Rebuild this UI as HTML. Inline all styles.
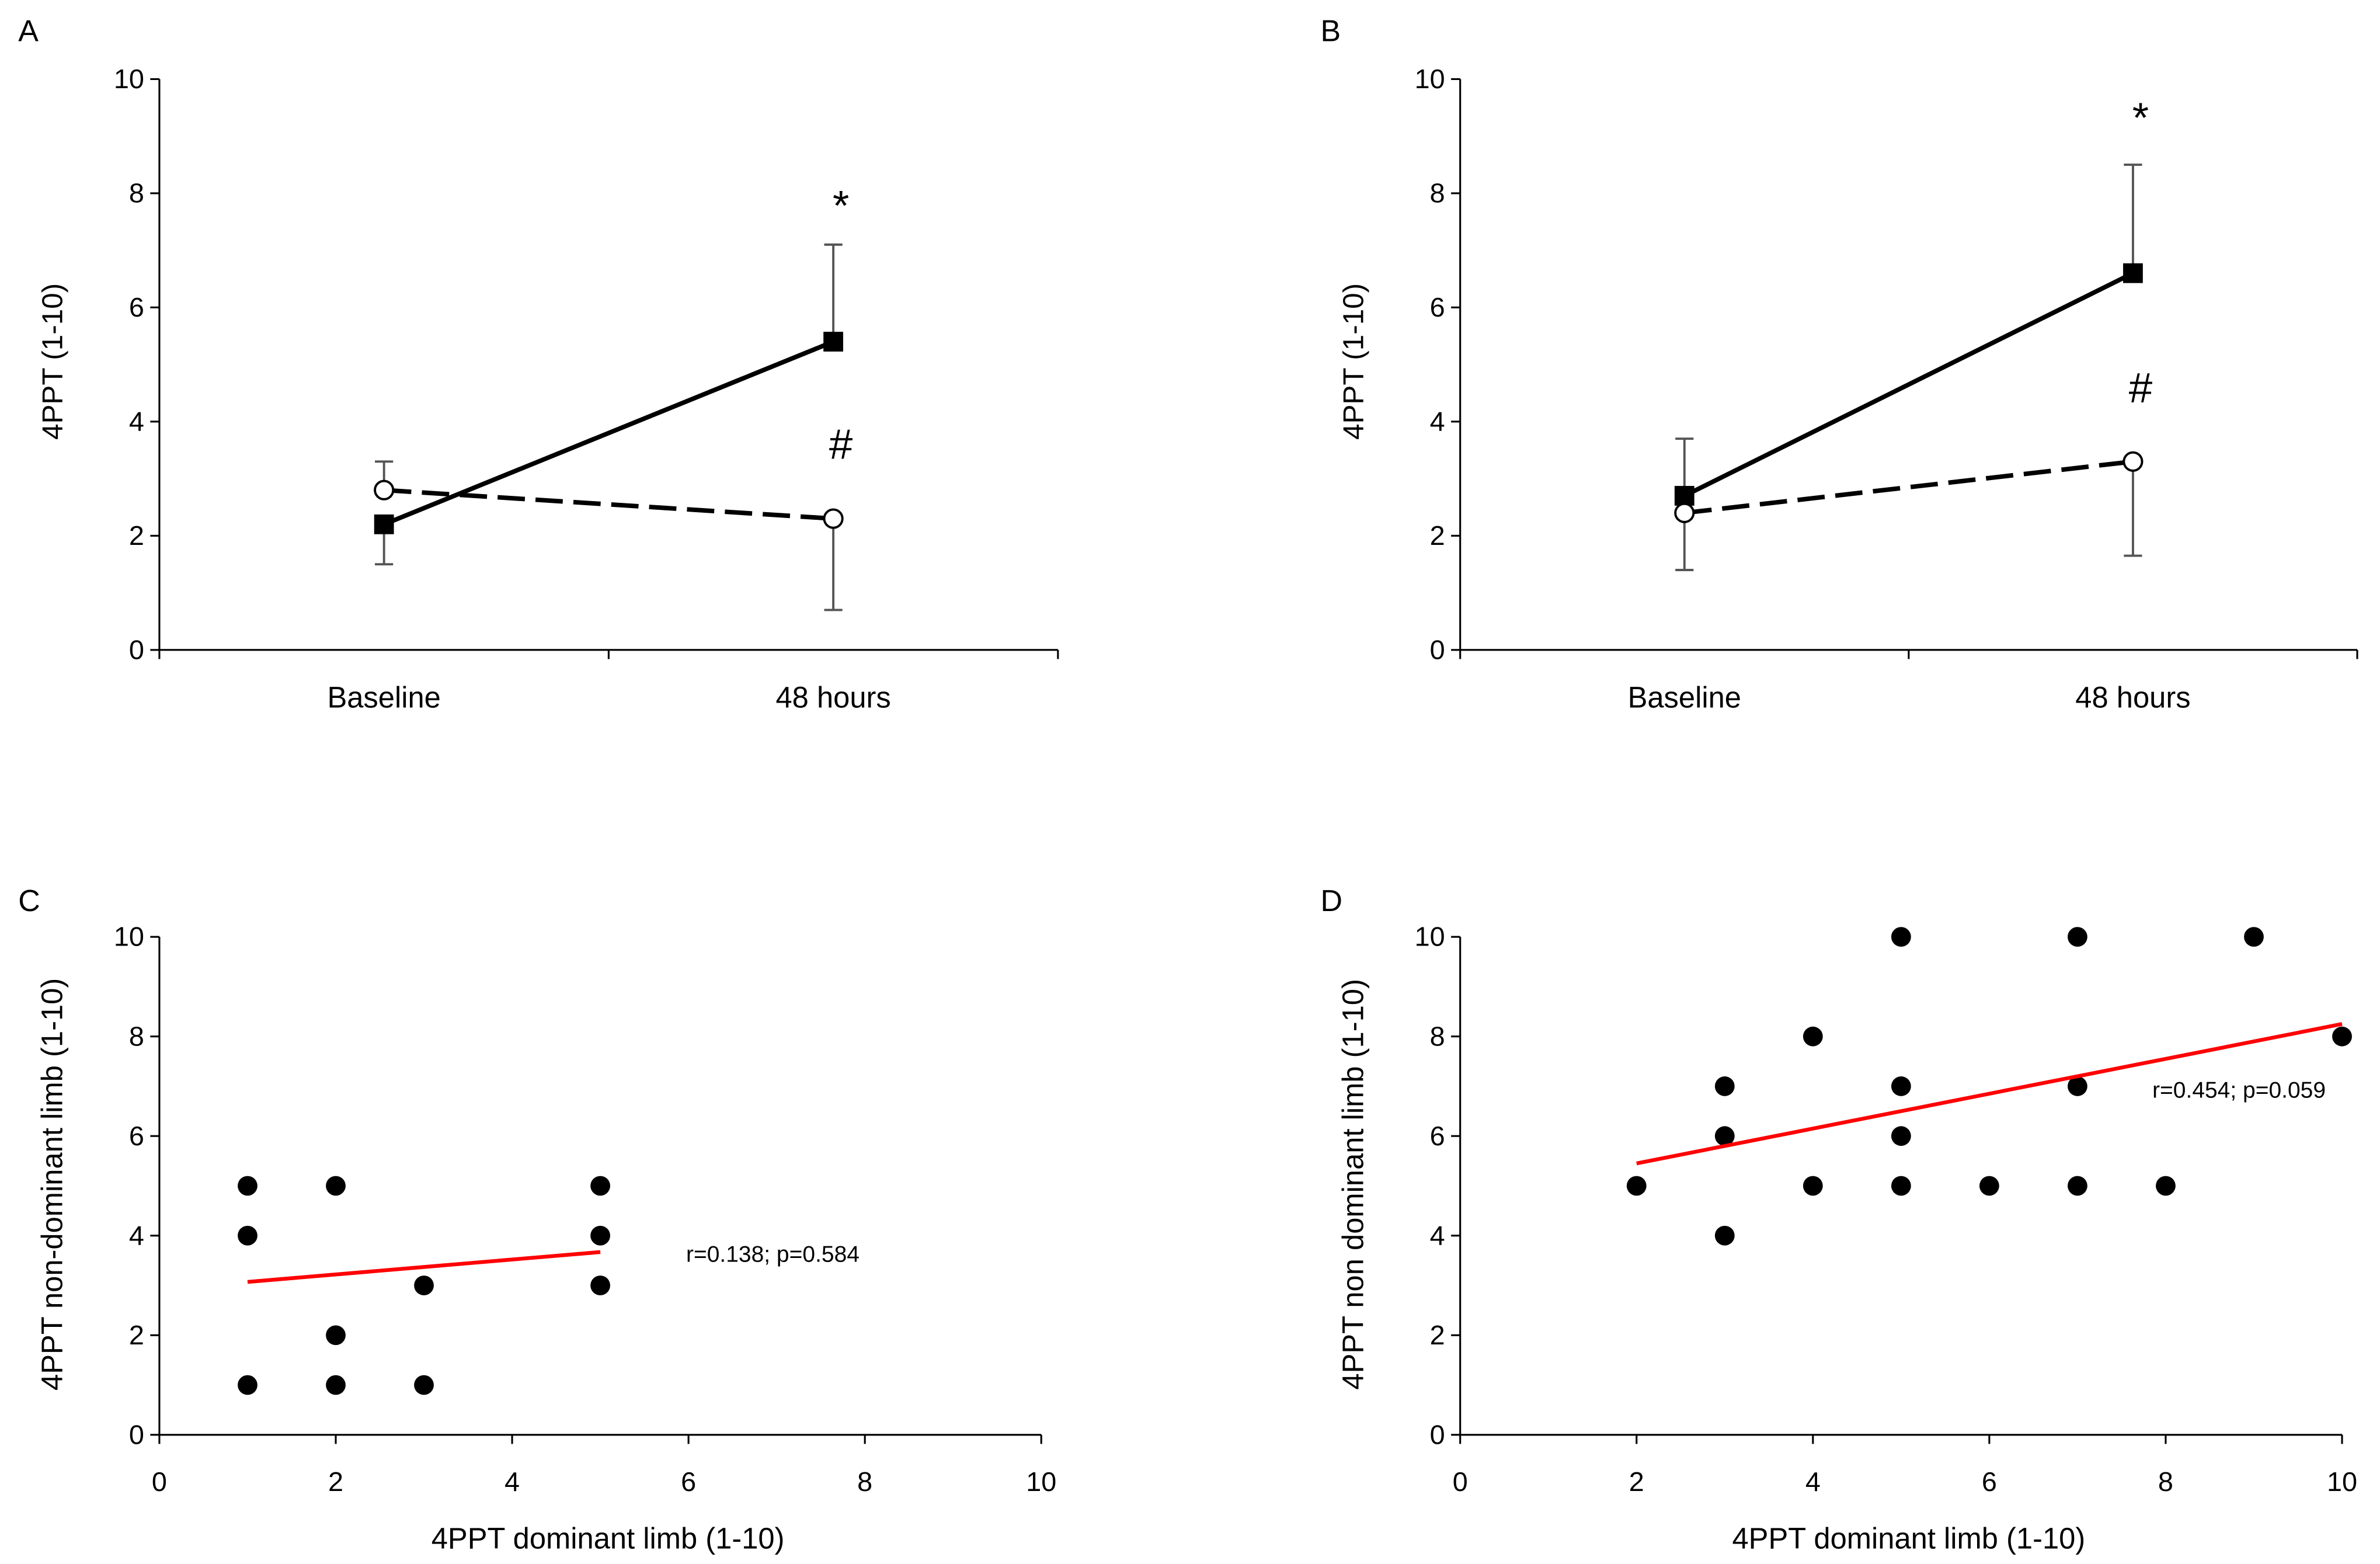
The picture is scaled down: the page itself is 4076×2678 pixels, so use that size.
<!DOCTYPE html>
<html><head><meta charset="utf-8"><style>
html,body{margin:0;padding:0;background:#fff}
svg{display:block}
text{font-family:"Liberation Sans",sans-serif;fill:#000}
</style></head><body>
<svg id="fig" width="4076" height="2678" viewBox="0 0 1568 1030" xmlns="http://www.w3.org/2000/svg"></svg>
<script>
// Panel A data
const catLabels = ["Baseline","48 hours"];
const aSolid = [2.2, 5.4];
const aSolidErr = [-0.7, 1.7];
const aOpen = [2.8, 2.3];
const aOpenErr = [0.5, -1.6];
// Panel B data
const bSolid = [2.7, 6.6];
const bSolidErr = [1.0, 1.9];
const bOpen = [2.4, 3.3];
const bOpenErr = [-1.0, -1.65];
const yTicks = [0,2,4,6,8,10];
const xTicksScatter = [0,2,4,6,8,10];
// Panel C data
const cX = [1,1,1,2,2,2,3,3,5,5,5];
const cY = [5,4,1,5,2,1,3,1,5,4,3];
const cFit = [[1,3.07],[5,3.67]];
// Panel D data
const dX = [2,3,3,3,4,4,5,5,5,5,6,7,7,7,8,9,10];
const dY = [5,7,6,4,8,5,10,7,6,5,5,10,7,5,5,10,8];
const dFit = [[2,5.45],[10,8.25]];

const NS="http://www.w3.org/2000/svg";
const svg=document.getElementById('fig');
function el(tag,attrs,parent,txt){const e=document.createElementNS(NS,tag);for(const k in attrs)e.setAttribute(k,attrs[k]);if(txt!==undefined)e.textContent=txt;(parent||svg).appendChild(e);return e;}

function letter(x,y,t){const e=el('text',{x:x,y:y,'font-size':20});e.textContent=t;

}
letter(12,27,"A");letter(870,27,"B");letter(12,600,"C");letter(870,600,"D");

function linePanel(name,x0,x1,solid,solidErr,open,openErr,star,hash){
  const yT=52,yB=428;
  const ys=v=>yB-(v/10)*(yB-yT);
  const cw=(x1-x0)/2;
  const xs=i=>x0+cw*(i+0.5);
  const g=el('g',{});
  
  
  el('line',{x1:x0,y1:yT,x2:x0,y2:yB,stroke:'#000','stroke-width':1.2},g);
  el('line',{x1:x0,y1:yB,x2:x1,y2:yB,stroke:'#000','stroke-width':1.2},g);
  yTicks.forEach(t=>{el('line',{x1:x0-6,y1:ys(t),x2:x0,y2:ys(t),stroke:'#000','stroke-width':1.2},g);
    const tx=el('text',{x:x0-10,y:ys(t)+6,'font-size':18,'text-anchor':'end'},g,String(t));
    });
  [0,1,2].forEach(i=>el('line',{x1:x0+cw*i,y1:yB,x2:x0+cw*i,y2:yB+6,stroke:'#000','stroke-width':1.2},g));
  catLabels.forEach((c,i)=>{const t=el('text',{x:xs(i),y:466,'font-size':19.5,'text-anchor':'middle'},g,c);
    });
  const yt=el('text',{x:0,y:0,'font-size':19,'text-anchor':'middle',transform:`translate(${x0-64},238) rotate(-90)`},g,"4PPT (1-10)");
  
  function err(vals,errs){vals.forEach((v,i)=>{const e=v+errs[i];
    el('line',{x1:xs(i),y1:ys(v),x2:xs(i),y2:ys(e),stroke:'#555','stroke-width':1.5},g);
    el('line',{x1:xs(i)-6,y1:ys(e),x2:xs(i)+6,y2:ys(e),stroke:'#555','stroke-width':1.5},g);});}
  err(solid,solidErr);err(open,openErr);
  const sl=el('polyline',{points:solid.map((v,i)=>xs(i)+','+ys(v)).join(' '),fill:'none',stroke:'#000','stroke-width':3},g);
  
  const ol=el('polyline',{points:open.map((v,i)=>xs(i)+','+ys(v)).join(' '),fill:'none',stroke:'#000','stroke-width':3,'stroke-dasharray':'18,7'},g);
  
  solid.forEach((v,i)=>{const r=el('rect',{x:xs(i)-6.5,y:ys(v)-6.5,width:13,height:13,fill:'#000'},g);
    });
  open.forEach((v,i)=>{const c=el('circle',{cx:xs(i),cy:ys(v),r:6,fill:'#fff',stroke:'#000','stroke-width':1.5},g);
    });
  const s=el('text',{x:xs(1)+5,y:star,'font-size':28,'text-anchor':'middle'},g,"*");
  
  const h=el('text',{x:xs(1)+5,y:hash,'font-size':28,'text-anchor':'middle'},g,"#");
  
}
linePanel('panel-a',105,697,aSolid,aSolidErr,aOpen,aOpenErr,145,302);
linePanel('panel-b',962,1553,bSolid,bSolidErr,bOpen,bOpenErr,87,265);

function scatterPanel(name,x0,x1,xv,yv,fit,ytitle,stat,sx,sy){
  const yT=617,yB=945;
  const ys=v=>yB-(v/10)*(yB-yT);
  const xsc=v=>x0+(v/10)*(x1-x0);
  const g=el('g',{});
  
  
  el('line',{x1:x0,y1:yT,x2:x0,y2:yB,stroke:'#000','stroke-width':1.2},g);
  el('line',{x1:x0,y1:yB,x2:x1,y2:yB,stroke:'#000','stroke-width':1.2},g);
  yTicks.forEach(t=>{el('line',{x1:x0-6,y1:ys(t),x2:x0,y2:ys(t),stroke:'#000','stroke-width':1.2},g);
    const tx=el('text',{x:x0-10,y:ys(t)+6,'font-size':18,'text-anchor':'end'},g,String(t));
    });
  xTicksScatter.forEach(t=>{el('line',{x1:xsc(t),y1:yB,x2:xsc(t),y2:yB+6,stroke:'#000','stroke-width':1.2},g);
    const tx=el('text',{x:xsc(t),y:982,'font-size':18,'text-anchor':'middle'},g,String(t));
    });
  const xt=el('text',{x:(x0+x1)/2+5,y:1020,'font-size':19.5,'text-anchor':'middle'},g,"4PPT dominant limb (1-10)");
  
  const yt=el('text',{x:0,y:0,'font-size':19.5,'text-anchor':'middle',transform:`translate(${x0-64},780) rotate(-90)`},g,ytitle);
  
  xv.forEach((x,i)=>{const c=el('circle',{cx:xsc(x),cy:ys(yv[i]),r:6.5,fill:'#000'},g);
    });
  const fl=el('line',{x1:xsc(fit[0][0]),y1:ys(fit[0][1]),x2:xsc(fit[1][0]),y2:ys(fit[1][1]),stroke:'#ff0000','stroke-width':2.5},g);
  
  const st=el('text',{x:sx,y:sy,'font-size':15},g,stat);
  
}
scatterPanel('panel-c',105,686,cX,cY,cFit,"4PPT non-dominant limb (1-10)","r=0.138; p=0.584",452,831);
scatterPanel('panel-d',962,1543,dX,dY,dFit,"4PPT non dominant limb (1-10)","r=0.454; p=0.059",1418,723);
</script>
</body></html>
